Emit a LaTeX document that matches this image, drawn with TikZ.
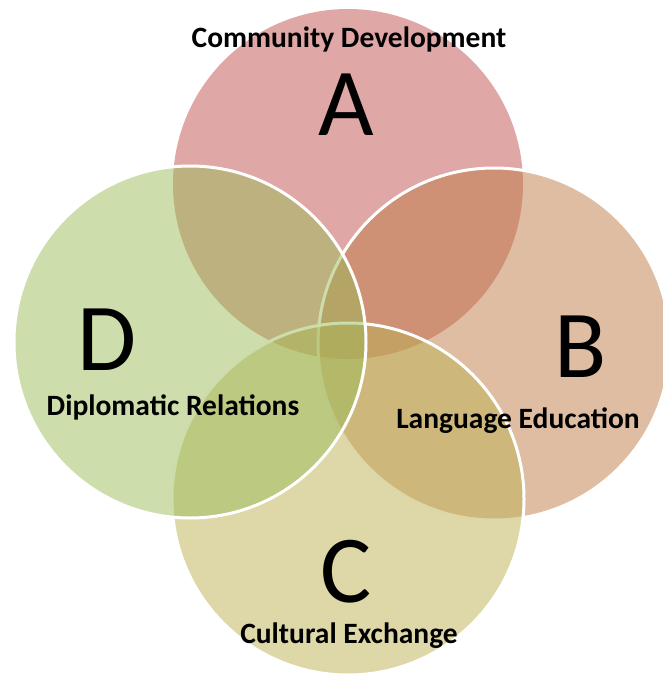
\documentclass[tikz,border=0pt]{standalone}
\usepackage{fontspec}
\setmainfont{Carlito}
\definecolor{redA}{HTML}{C0504D}
\definecolor{tanB}{HTML}{BE7C46}
\definecolor{olvC}{HTML}{BDB153}
\definecolor{grnD}{HTML}{9BBB59}
\begin{document}
\begin{tikzpicture}[x=1pt,y=-1pt,
    ring/.style={fill opacity=0.5,draw=white,line width=3pt},
    letter/.style={anchor=base,font=\fontsize{96}{96}\selectfont},
    topic/.style={anchor=base,font=\fontsize{29.5}{32}\selectfont\bfseries}]
    \useasboundingbox (0,0) rectangle (663,677);
    \fill[redA,fill opacity=0.5] (348,184) circle[radius=175pt];
    \draw[ring,fill=tanB] (494,344) circle[radius=176pt];
    \draw[ring,fill=olvC] (348,499) circle[radius=176pt];
    \draw[ring,fill=grnD] (190,342) circle[radius=176pt];
    \node[letter] (la) at (346,135) {A};
    \node[letter] (lb) at (581,377) {B};
    \node[letter] (lc) at (346,602) {C};
    \node[letter] (ld) at (107,370) {D};
    \node[topic] (ta) at (349,48) {Community Development};
    \node[topic] (tb) at (518,428) {Language Education};
    \node[topic] (tc) at (349,643) {Cultural Exchange};
    \node[topic] (td) at (173,415) {Diplomatic Relations};
\end{tikzpicture}
\end{document}
